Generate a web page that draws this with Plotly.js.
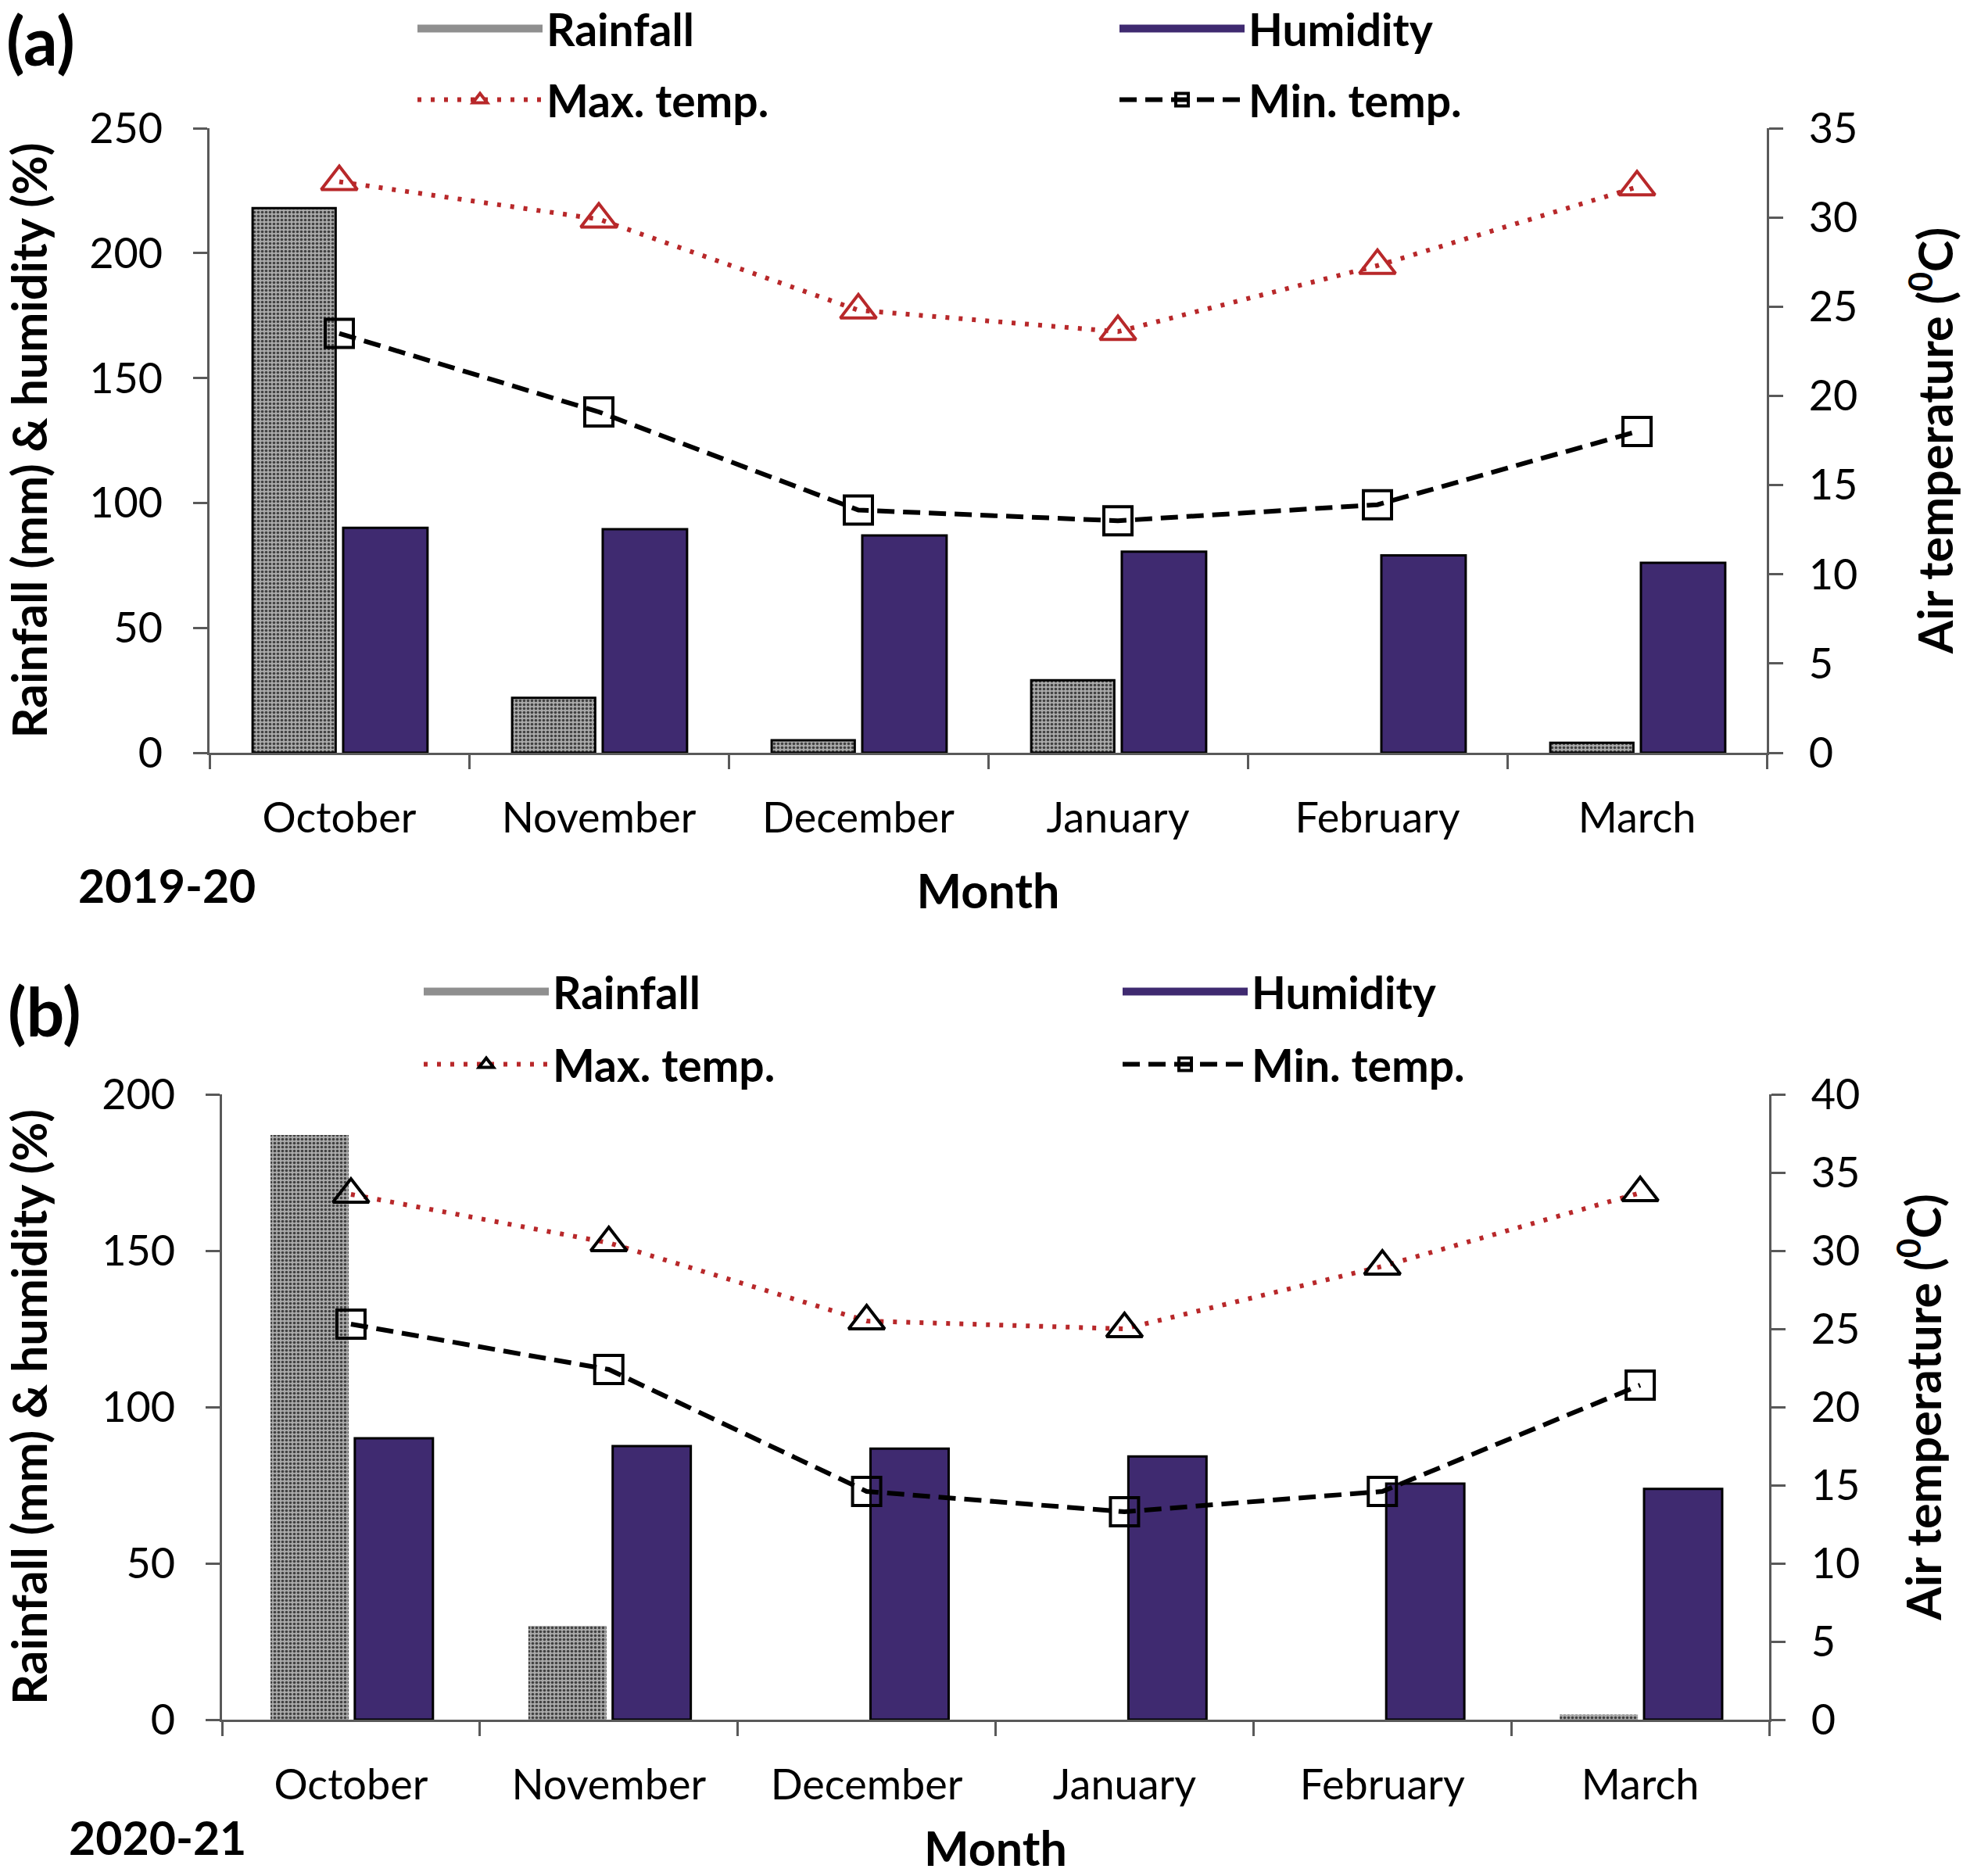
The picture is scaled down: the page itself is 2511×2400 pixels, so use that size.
<!DOCTYPE html>
<html>
<head>
<meta charset="utf-8">
<script src="https://cdn.plot.ly/plotly-3.0.1.min.js"></script>
<style>html,body{margin:0;padding:0;background:#fff;}#chart{width:2511px;height:2400px;}</style>
</head>
<body>
<div id="chart"></div>
<script>
// ---- data ----
const months = ["October", "November", "December", "January", "February", "March"];

const rainfallA = [218, 22, 5, 29, null, 4];
const humidityA = [90, 89.5, 87, 80.5, 79, 76];
const maxTempA = [32.0, 29.9, 24.8, 23.6, 27.3, 31.7];
const minTempA = [23.5, 19.1, 13.6, 13.0, 13.9, 18.0];

const rainfallB = [187, 30, 0, 0, 0, 1.6];
const humidityB = [90, 87.5, 86.7, 84.2, 75.5, 73.8];
const maxTempB = [33.6, 30.5, 25.5, 25.0, 29.0, 33.7];
const minTempB = [25.3, 22.4, 14.6, 13.3, 14.6, 21.4];

const leftTicksA = [0, 50, 100, 150, 200, 250];
const rightTicksA = [0, 5, 10, 15, 20, 25, 30, 35];
const leftTicksB = [0, 50, 100, 150, 200];
const rightTicksB = [0, 5, 10, 15, 20, 25, 30, 35, 40];

// ---- style ----
const W = 2511, H = 2400;
const FONT = "Lato, 'Open Sans', sans-serif";
const AXC = "#595959";
const PURPLE = "#3F2A70";
const RED = "#B8282A";
const RAIN_SWATCH = "#8f8f8f";
const px = v => v / W;
const py = v => 1 - v / H;

const rainPattern = {shape: ".", bgcolor: "#a9a9a9", fgcolor: "#404040", size: 5, solidity: 0.4};

// legend-only swatch traces (no data drawn) so the bar legend keys are wide like the original
function swatch(name, color, legend) {
  return {type: "scatter", mode: "lines", name: name, x: [null], y: [null], xaxis: "x", yaxis: "y",
    legend: legend, hoverinfo: "skip", line: {color: color, width: 30}};
}

const traces = [
  {type: "bar", name: "Rainfall", x: months, y: rainfallA, xaxis: "x", yaxis: "y",
   offset: -0.334, width: 0.32, showlegend: false,
   marker: {color: "#404040", pattern: rainPattern, line: {color: "#000", width: 3}}},
  {type: "bar", name: "Humidity", x: months, y: humidityA, xaxis: "x", yaxis: "y",
   offset: 0.015, width: 0.325, showlegend: false,
   marker: {color: PURPLE, line: {color: "#000", width: 3}}},
  {type: "scatter", mode: "lines+markers", name: "Max. temp.", x: months, y: maxTempA,
   xaxis: "x", yaxis: "y2", legend: "legend3",
   line: {color: RED, width: 6, dash: "5px,12px"},
   marker: {symbol: "triangle-up-open", size: 40, color: RED, line: {width: 4, color: RED}}},
  {type: "scatter", mode: "lines+markers", name: "Min. temp.", x: months, y: minTempA,
   xaxis: "x", yaxis: "y2", legend: "legend4",
   line: {color: "#000", width: 6, dash: "22px,11px"},
   marker: {symbol: "square-open", size: 36, color: "#000", line: {width: 4, color: "#000"}}},

  {type: "bar", name: "Rainfall", x: months, y: rainfallB, xaxis: "x2", yaxis: "y3",
   offset: -0.312, width: 0.303, showlegend: false,
   marker: {color: "#404040", pattern: rainPattern, line: {width: 0}}},
  {type: "bar", name: "Humidity", x: months, y: humidityB, xaxis: "x2", yaxis: "y3",
   offset: 0.015, width: 0.303, showlegend: false,
   marker: {color: PURPLE, line: {color: "#000", width: 3}}},
  {type: "scatter", mode: "lines+markers", name: "Max. temp.", x: months, y: maxTempB,
   xaxis: "x2", yaxis: "y4", legend: "legend7",
   line: {color: RED, width: 6, dash: "5px,12px"},
   marker: {symbol: "triangle-up-open", size: 40, color: "#000", line: {width: 4, color: "#000"}}},
  {type: "scatter", mode: "lines+markers", name: "Min. temp.", x: months, y: minTempB,
   xaxis: "x2", yaxis: "y4", legend: "legend8",
   line: {color: "#000", width: 6, dash: "22px,11px"},
   marker: {symbol: "square-open", size: 36, color: "#000", line: {width: 4, color: "#000"}}},

  swatch("Rainfall", RAIN_SWATCH, "legend"),
  swatch("Humidity", PURPLE, "legend2"),
  swatch("Rainfall", RAIN_SWATCH, "legend5"),
  swatch("Humidity", PURPLE, "legend6")
];

const tickFont = {family: FONT, size: 54, color: "#000"};
const titleFont = {family: FONT, size: 61, color: "#000", weight: "bold"};

function xAxis(domain, anchor, standoff) {
  return {domain: domain, anchor: anchor, type: "category", categoryarray: months,
    showline: true, linecolor: AXC, linewidth: 3, ticks: "outside", tickson: "boundaries",
    ticklen: 18, tickwidth: 3, tickcolor: AXC, tickfont: tickFont, showgrid: false,
    zeroline: false, ticklabelstandoff: 34,
    title: {text: "Month", font: titleFont, standoff: standoff}};
}
function yLeft(domain, anchor, range, ticks, standoff) {
  return {domain: domain, anchor: anchor, range: range, tickvals: ticks, showline: true,
    linecolor: AXC, linewidth: 3, ticks: "outside", ticklen: 18, tickwidth: 3, tickcolor: AXC,
    tickfont: tickFont, showgrid: false, zeroline: false, ticklabelstandoff: 28,
    title: {text: "Rainfall (mm) & humidity (%)", font: titleFont, standoff: standoff}};
}
function yRight(overlay, anchor, range, ticks, standoff) {
  return {overlaying: overlay, anchor: anchor, side: "right", range: range, tickvals: ticks,
    showline: true, linecolor: AXC, linewidth: 3, ticks: "outside", ticklen: 18, tickwidth: 3,
    tickcolor: AXC, tickfont: tickFont, showgrid: false, zeroline: false, ticklabelstandoff: 22,
    title: {text: "Air temperature (<sup>0</sup>C)", font: titleFont, standoff: standoff}};
}

const legFont = {family: FONT, size: 57, color: "#000", weight: "bold"};
function leg(x, y) {
  return {x: px(x), y: py(y), xanchor: "left", yanchor: "middle", orientation: "v",
    font: legFont, itemwidth: 160, bgcolor: "rgba(0,0,0,0)", borderwidth: 0};
}

const layout = {
  width: W, height: H, margin: {l: 0, r: 0, t: 0, b: 0, autoexpand: false},
  paper_bgcolor: "#fff", plot_bgcolor: "rgba(0,0,0,0)", showlegend: true,
  barmode: "overlay", font: {family: FONT, color: "#000"},
  xaxis: xAxis([px(268), px(2260)], "y", 44),
  yaxis: yLeft([py(963), py(164)], "x", [0, 250], leftTicksA, 52),
  yaxis2: yRight("y", "x", [0, 35], rightTicksA, 82),
  xaxis2: xAxis([px(284), px(2263)], "y3", 64),
  yaxis3: yLeft([py(2200), py(1400)], "x2", [0, 200], leftTicksB, 62),
  yaxis4: yRight("y3", "x2", [0, 40], rightTicksB, 62),
  legend: leg(529, 37), legend2: leg(1427, 37), legend3: leg(529, 128), legend4: leg(1427, 128),
  legend5: leg(537, 1269), legend6: leg(1431, 1269), legend7: leg(537, 1362), legend8: leg(1431, 1362),
  annotations: [
    {text: "<b>(a)</b>", x: px(6), y: py(50), xref: "paper", yref: "paper", xanchor: "left", yanchor: "middle",
     showarrow: false, font: {family: FONT, size: 86, color: "#000"}},
    {text: "<b>2019-20</b>", x: px(98), y: py(1132), xref: "paper", yref: "paper", xanchor: "left", yanchor: "middle",
     showarrow: false, font: {family: FONT, size: 59, color: "#000"}},
    {text: "<b>(b)</b>", x: px(8), y: py(1292), xref: "paper", yref: "paper", xanchor: "left", yanchor: "middle",
     showarrow: false, font: {family: FONT, size: 86, color: "#000"}},
    {text: "<b>2020-21</b>", x: px(86), y: py(2350), xref: "paper", yref: "paper", xanchor: "left", yanchor: "middle",
     showarrow: false, font: {family: FONT, size: 59, color: "#000"}}
  ]
};

Plotly.newPlot("chart", traces, layout, {staticPlot: true, displayModeBar: false});
</script>
</body>
</html>
